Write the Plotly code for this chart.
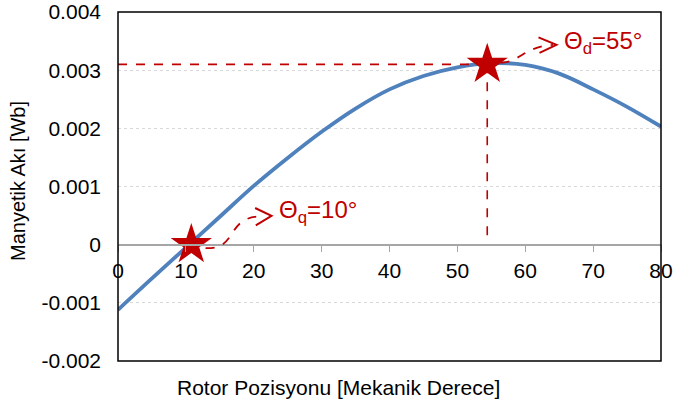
import plotly.graph_objects as go

# ---- data ----
rotor_deg = [0, 5, 10, 15, 20, 25, 30, 35, 40, 45, 50, 55, 60, 65, 70, 75, 80]
flux_wb = [-0.00112, -0.00058, -0.00005, 0.00048, 0.00101, 0.00149, 0.00194, 0.00234,
           0.00267, 0.00290, 0.00305, 0.00312, 0.00309, 0.00294, 0.00267, 0.00237, 0.00203]

theta_q = [10.8]
theta_q_flux = [0.0]
theta_d = [54.4]
theta_d_flux = [0.0031]

y_tickvals = [-0.002, -0.001, 0, 0.001, 0.002, 0.003, 0.004]
y_ticktext = ["-0.002", "-0.001", "0", "0.001", "0.002", "0.003", "0.004"]
x_tickvals = [0, 10, 20, 30, 40, 50, 60, 70, 80]

x_title = "Rotor Pozisyonu [Mekanik Derece]"
y_title = "Manyetik Akı [Wb]"
label_q = "Θ<sub>q</sub>=10°"
label_d = "Θ<sub>d</sub>=55°"

RED = "#C00000"
BLUE = "#4F81BD"
FONT = "Liberation Sans, Arial, sans-serif"

fig = go.Figure()

fig.add_trace(go.Scatter(x=rotor_deg, y=flux_wb, mode="lines",
                         line=dict(color=BLUE, width=3.8, shape="spline", smoothing=1.0),
                         showlegend=False, hoverinfo="skip"))

# dashed guide lines to the d-axis point
fig.add_trace(go.Scatter(x=[0, theta_d[0]], y=[theta_d_flux[0], theta_d_flux[0]], mode="lines",
                         line=dict(color=RED, width=1.6, dash="dash"), showlegend=False))
fig.add_trace(go.Scatter(x=[theta_d[0], theta_d[0]], y=[theta_d_flux[0], 0], mode="lines",
                         line=dict(color=RED, width=1.6, dash="dash"), showlegend=False))

fig.add_trace(go.Scatter(x=theta_q + theta_d, y=theta_q_flux + theta_d_flux, mode="markers",
                         marker=dict(symbol="star", size=31, color=RED, line=dict(width=0)),
                         showlegend=False))

shapes = [
    dict(type="rect", xref="paper", yref="paper", x0=0, x1=1, y0=0, y1=1,
         line=dict(color="black", width=1.5), layer="above"),
    # curved arrow to theta_q label
    dict(type="path", xref="x", yref="y",
         path="M 12.9,-0.00006 C 18.0,-0.00008 15.6,0.00050 21.6,0.00049",
         line=dict(color=RED, width=1.8, dash="dash")),
    dict(type="path", xref="x", yref="y",
         path="M 20.2,0.00063 L 22.62,0.000494 L 20.3,0.00033",
         line=dict(color=RED, width=2)),
    # curved arrow to theta_d label
    dict(type="path", xref="x", yref="y",
         path="M 56.35,0.003125 C 59.3,0.003142 60.0,0.003417 64.1,0.003434",
         line=dict(color=RED, width=1.8, dash="dash")),
    dict(type="path", xref="x", yref="y",
         path="M 61.95,0.003564 L 64.6,0.003434 L 62.1,0.003297",
         line=dict(color=RED, width=2)),
]

annotations = [
    dict(text=label_q, x=23.4, y=0.00057, xref="x", yref="y", xanchor="left", yanchor="middle",
         showarrow=False, font=dict(family=FONT, size=24, color=RED)),
    dict(text=label_d, x=65.4, y=0.00348, xref="x", yref="y", xanchor="left", yanchor="middle",
         showarrow=False, font=dict(family=FONT, size=24, color=RED)),
    dict(text=x_title, x=338, y=387, xref="paper", yref="paper", showarrow=False,
         xanchor="center", yanchor="middle",
         font=dict(family=FONT, size=21, color="black")),
    dict(text=y_title, x=18, y=181, xref="paper", yref="paper", showarrow=False, textangle=-90,
         xanchor="center", yanchor="middle",
         font=dict(family=FONT, size=20, color="black")),
]

# convert pixel-positioned title annotations to paper fractions
L, R, T, B = 118, 12, 12, 46
W, H = 673, 407
pw, ph = W - L - R, H - T - B
for a in annotations[2:]:
    a["x"] = (a["x"] - L) / pw
    a["y"] = (H - B - a["y"]) / ph

fig.update_layout(
    width=W, height=H,
    margin=dict(l=L, r=R, t=T, b=B, pad=0, autoexpand=False),
    paper_bgcolor="white", plot_bgcolor="white",
    font=dict(family=FONT, size=21, color="black"),
    shapes=shapes, annotations=annotations,
    xaxis=dict(range=[0, 80], tickvals=x_tickvals, anchor="free", position=1/3,
               automargin=False,
               showline=True, linecolor="#A6A6A6", linewidth=1.5,
               ticks="outside", ticklen=7, tickcolor="#A6A6A6", tickwidth=1.2,
               showgrid=False, zeroline=False, tickfont=dict(size=21)),
    yaxis=dict(range=[-0.002, 0.004], tickvals=y_tickvals, ticktext=y_ticktext,
               automargin=False,
               showline=False, ticks="", ticklabelstandoff=16,
               showgrid=True, gridcolor="#D9D9D9", griddash="dot", gridwidth=1,
               zeroline=False, tickfont=dict(size=21)),
)

fig.write_html("out.html", config={"displayModeBar": False},
               post_script="document.body.style.margin='0';document.body.style.padding='0';")
